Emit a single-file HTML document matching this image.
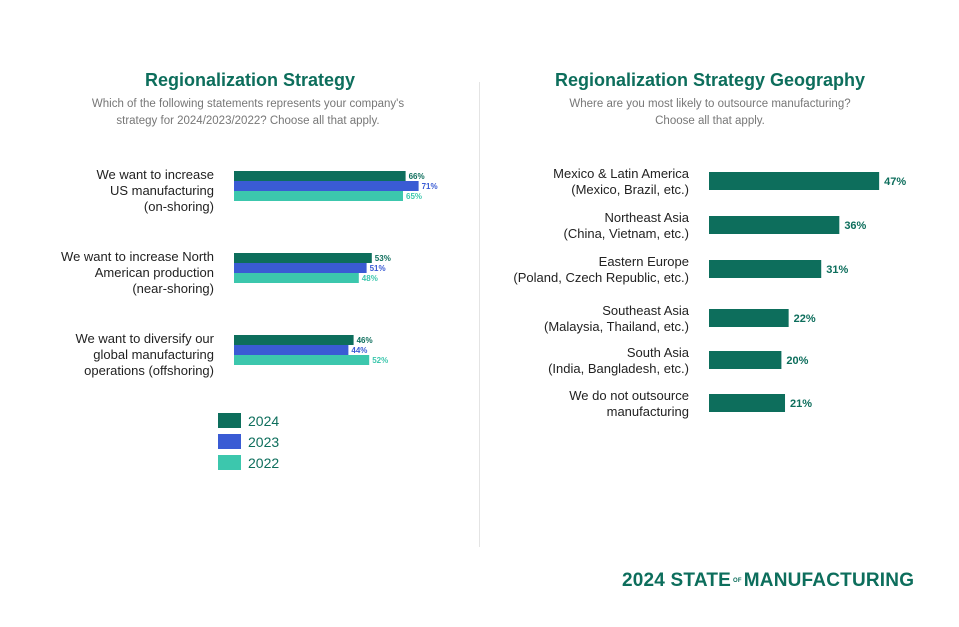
<!DOCTYPE html>
<html><head><meta charset="utf-8"><style>
body{margin:0;width:959px;height:627px;background:#fff;font-family:"Liberation Sans",sans-serif;overflow:hidden;position:relative}
.t{position:absolute;white-space:nowrap}
.title{font-weight:bold;font-size:18px;color:#0d6e5c;text-align:center}
.sub{font-size:11.5px;color:#777;text-align:center;line-height:17px}
</style></head><body>
<div class="t title" style="left:0;width:500px;top:70px">Regionalization Strategy</div>
<div class="t sub" style="left:0;width:496px;top:96px">Which of the following statements represents your company's<br>strategy for 2024/2023/2022? Choose all that apply.</div>
<div class="t title" style="left:524px;width:372px;top:70px">Regionalization Strategy Geography</div>
<div class="t sub" style="left:524px;width:372px;top:96px">Where are you most likely to outsource manufacturing?<br>Choose all that apply.</div>
<div style="position:absolute;left:479px;top:82px;width:1px;height:465px;background:#e4e4e4"></div>
<svg id="c" width="959" height="627" style="position:absolute;left:0;top:0"></svg>
<div class="t" style="left:622px;top:570px;font-size:19px;font-weight:bold;color:#0d6e5c;letter-spacing:0.2px">2024 STATE<span style="font-size:6px;vertical-align:middle;margin:0 2px">OF</span>MANUFACTURING</div>
<script>
const leftCats=[["We want to increase","US manufacturing","(on-shoring)"],["We want to increase North","American production","(near-shoring)"],["We want to diversify our","global manufacturing","operations (offshoring)"]];
const years=["2024","2023","2022"];
const v2024=[66,53,46];
const v2023=[71,51,44];
const v2022=[65,48,52];
const rightCats=[["Mexico & Latin America","(Mexico, Brazil, etc.)"],["Northeast Asia","(China, Vietnam, etc.)"],["Eastern Europe","(Poland, Czech Republic, etc.)"],["Southeast Asia","(Malaysia, Thailand, etc.)"],["South Asia","(India, Bangladesh, etc.)"],["We do not outsource","manufacturing"]];
const rightVals=[47,36,31,22,20,21];
const colors=["#0d6e5c","#3a5bd4","#3cc7ad"];
const svg=document.getElementById('c');
const NS="http://www.w3.org/2000/svg";
function mk(tag,attrs){const e=document.createElementNS(NS,tag);for(const k in attrs)e.setAttribute(k,attrs[k]);svg.appendChild(e);return e;}
const lx=v=>234+v*2.6;
const lGroupTop=[171,253,335];
const series=[v2024,v2023,v2022];
leftCats.forEach((c,i)=>{
  series.forEach((s,j)=>{
    const y=lGroupTop[i]+j*10;
    const r=mk('rect',{x:234,y:y,width:lx(s[i])-234,height:10,fill:colors[j]});
    
    
    const t=mk('text',{x:lx(s[i])+3,y:y+8,'font-size':8,'font-weight':'bold',fill:colors[j],'font-family':'Liberation Sans'});
    t.textContent=s[i]+'%';
    
    
  });
  c.forEach((line,k)=>{
    const t=mk('text',{x:214,y:lGroupTop[i]+8+k*16,'font-size':13,'text-anchor':'end',fill:'#222','font-family':'Liberation Sans'});
    t.textContent=line;
    
    
  });
});
years.forEach((y,j)=>{
  const r=mk('rect',{x:218,y:413+j*21,width:23,height:15,fill:colors[j]});
  
  
  const t=mk('text',{x:248,y:426+j*21,'font-size':14,fill:'#0d6e5c','font-family':'Liberation Sans'});
  t.textContent=y;
  
  
});
const rx=v=>709+v*3.62;
const rCenters=[181,225,269,318,360,403];
rightCats.forEach((c,i)=>{
  const cy=rCenters[i];
  const r=mk('rect',{x:709,y:cy-9,width:rx(rightVals[i])-709,height:18,fill:'#0d6e5c'});
  
  
  const t=mk('text',{x:rx(rightVals[i])+5,y:cy+4,'font-size':11,'font-weight':'bold',fill:'#0d6e5c','font-family':'Liberation Sans'});
  t.textContent=rightVals[i]+'%';
  
  
  c.forEach((line,k)=>{
    const tt=mk('text',{x:689,y:cy-3+k*16,'font-size':13,'text-anchor':'end',fill:'#222','font-family':'Liberation Sans'});
    tt.textContent=line;
    
    
  });
});
</script>
</body></html>
